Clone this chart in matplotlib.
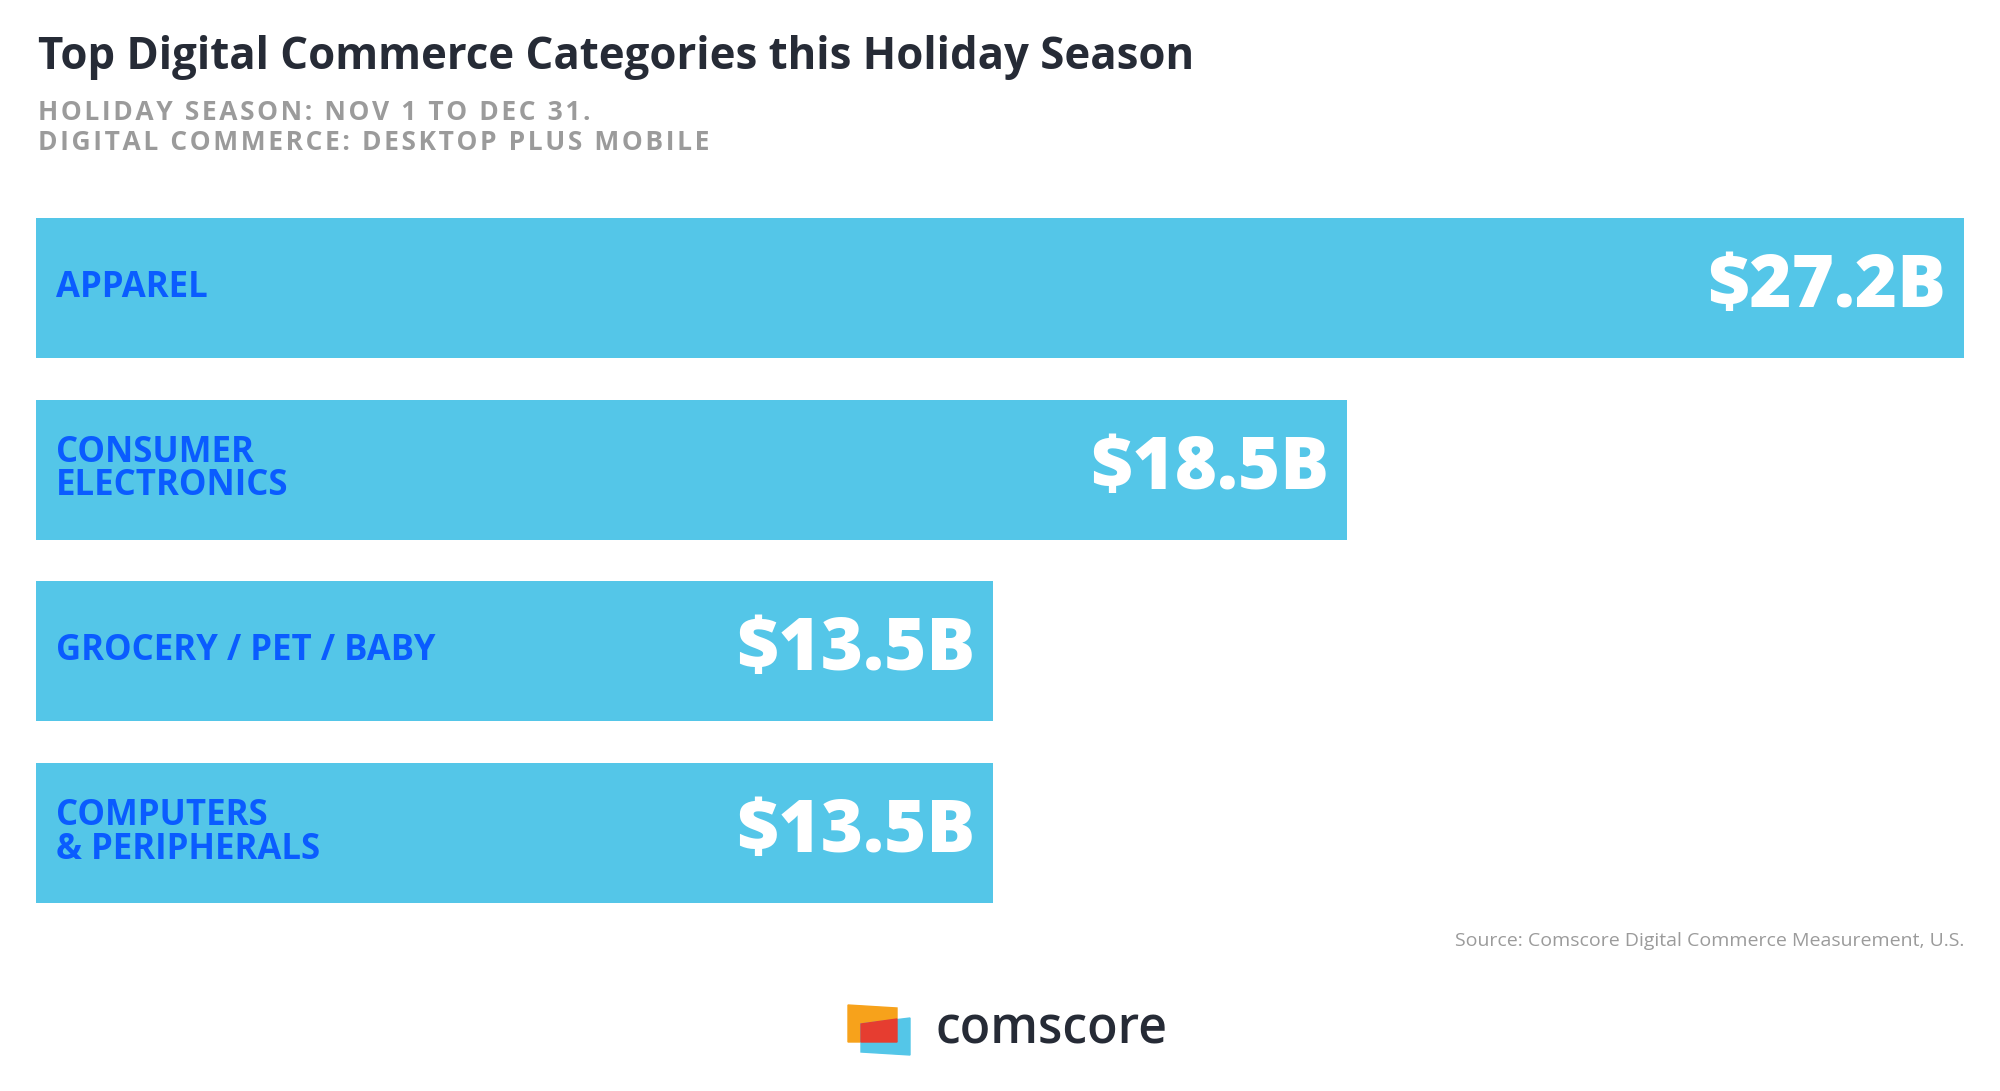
import matplotlib.pyplot as plt
from matplotlib.patches import Polygon

categories = ['APPAREL', 'CONSUMER\nELECTRONICS', 'GROCERY / PET / BABY', 'COMPUTERS\n& PERIPHERALS']
values = [27.2, 18.5, 13.5, 13.5]
value_labels = ['$27.2B', '$18.5B', '$13.5B', '$13.5B']

BAR = '#54c6e8'
BLUE = '#0a5cff'
DARK = '#262b36'
GREY = '#9b9b9b'
FONT = 'Open Sans'

def spaced(s):
    # mimic letter-spacing with hair spaces
    return '\u200a'.join(s).replace('\u200a \u200a', '\u200a\u200a ')

fig = plt.figure(figsize=(20, 10.91), dpi=100)
ax = fig.add_axes([0.018, 1 - 903 / 1091, 0.964, (903 - 218) / 1091])
h = 140 / 181.7
ax.barh(range(len(values)), values, height=h, color=BAR)
ax.set_xlim(0, 27.2)
ax.set_ylim(3 + h / 2, -h / 2)
ax.axis('off')

for i, (cat, v, lab) in enumerate(zip(categories, values, value_labels)):
    ax.text(0.28, i, cat, color=BLUE, fontsize=25, fontweight='bold', family=FONT,
            va='center', ha='left', linespacing=0.9)
    ax.text(v - 0.25, i, lab, color='white', fontsize=52, fontweight='heavy', family=FONT,
            va='center', ha='right')

fig.text(0.019, 1 - 57 / 1091, 'Top Digital Commerce Categories this Holiday Season',
         fontsize=31.5, fontweight='bold', color=DARK, family=FONT, va='center')
fig.text(0.019, 1 - 112 / 1091, spaced('HOLIDAY SEASON: NOV 1 TO DEC 31.'),
         fontsize=19, fontweight='bold', color=GREY, family=FONT, va='center')
fig.text(0.019, 1 - 142 / 1091, spaced('DIGITAL COMMERCE: DESKTOP PLUS MOBILE'),
         fontsize=19, fontweight='bold', color=GREY, family=FONT, va='center')
fig.text(0.982, 1 - 941 / 1091, 'Source: Comscore Digital Commerce Measurement, U.S.',
         fontsize=14, color=GREY, family=FONT, ha='right', va='center')

# logo
def px(x, y):
    return (x / 2000, 1 - y / 1091)
for pts, c in [([(848, 1005), (897, 1008), (897, 1042), (848, 1042)], '#f7a21b'),
               ([(861, 1024), (910, 1018), (910, 1055), (861, 1052)], '#54c6e8'),
               ([(861, 1024), (897, 1019), (897, 1042), (861, 1042)], '#e63d30')]:
    fig.patches.append(Polygon([px(*p) for p in pts], closed=True, color=c,
                               transform=fig.transFigure))
fig.text(935 / 2000, 1 - 1030 / 1091, 'comscore', fontsize=36, color=DARK,
         family=FONT, fontweight='semibold', va='center')

fig.savefig('out.png')
